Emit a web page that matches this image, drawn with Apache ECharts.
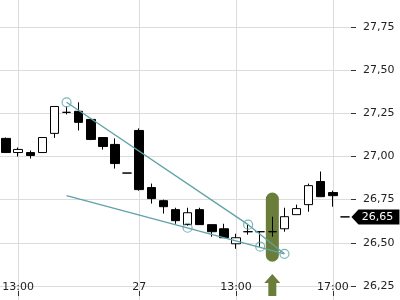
<!DOCTYPE html>
<html><head><meta charset="utf-8">
<script src="https://cdn.jsdelivr.net/npm/echarts@6/dist/echarts.min.js"></script>
<style>html,body{margin:0;padding:0;background:#fff}#c{width:400px;height:300px}</style>
</head><body><div id="c"></div>
<script>
// 30-minute candles, 26th 12:30 .. 27th 17:30
const times = ['26 12:30','26 13:00','26 13:30','26 14:00','26 14:30','26 15:00','26 15:30','26 16:00','26 16:30','26 17:00','26 17:30',
  '27 09:00','27 09:30','27 10:00','27 10:30','27 11:00','27 11:30','27 12:00','27 12:30','27 13:00','27 13:30','27 14:00','27 14:30',
  '27 15:00','27 15:30','27 16:00','27 16:30','27 17:00','27 17:30'];
const opens  = [27.105,27.023,27.023,27.023,27.134,27.256,27.262,27.215,27.110,27.070,26.904,27.151,26.820,26.744,26.692,26.605,26.692,26.605,26.581,26.494,26.564,26.564,26.564,26.581,26.663,26.721,26.855,26.791,26.650];
const closes = [27.023,27.041,27.006,27.110,27.290,27.256,27.198,27.099,27.058,26.959,26.904,26.808,26.756,26.709,26.628,26.674,26.605,26.564,26.529,26.529,26.564,26.564,26.564,26.651,26.698,26.831,26.767,26.773,26.650];
const lows   = [27.020,27.000,26.988,27.023,27.108,27.244,27.151,27.095,27.040,26.930,26.904,26.802,26.727,26.669,26.610,26.599,26.605,26.535,26.529,26.465,26.547,26.477,26.535,26.564,26.663,26.680,26.767,26.709,26.650];
const highs  = [27.110,27.052,27.035,27.110,27.290,27.290,27.314,27.220,27.110,27.105,26.904,27.163,26.843,26.750,26.703,26.703,26.703,26.605,26.610,26.552,26.605,26.564,26.651,26.703,26.721,26.843,26.913,26.802,26.650];
const tickIndex  = [1, 11, 19, 27];
const tickLabels = ['13:00', '27', '13:00', '17:00'];
const yMin = 26.00, yMax = 28.00, yStep = 0.25;
const lastPrice = 26.65;
const trendUpper = [[5, 27.314], [20, 26.605], [23, 26.436]];
const trendLower = [[5, 26.773], [23, 26.436]];
const anchors = [[5, 27.314], [20, 26.605], [23, 26.436], [15, 26.587], [21, 26.477]];
const signal = [[22, 26.39, 26.791]]; // [index, low, high] of highlighted signal bar

const TEAL = '#5fa2a8', OLIVE = '#6b7d3b', FONT = 'DejaVu Sans';
const fmt = v => v.toFixed(2).replace('.', ',');
const candles = opens.map((o, i) => [o, closes[i], lows[i], highs[i]]);

const chart = echarts.init(document.getElementById('c'), null, {renderer: 'canvas'});
chart.setOption({
  animation: false,
  backgroundColor: '#fff',
  grid: {left: 0, right: 49, top: -16, bottom: -29, outerBoundsMode: 'none', containLabel: false},
  xAxis: {
    type: 'category', data: times, boundaryGap: true, position: 'bottom', offset: -33,
    axisLine: {show: false},
    axisTick: {show: true, inside: true, length: 5, alignWithLabel: true,
      interval: i => tickIndex.includes(i), lineStyle: {color: '#333'}},
    axisLabel: {show: true, inside: true, margin: 3, fontFamily: FONT, fontSize: 11, color: '#222',
      interval: i => tickIndex.includes(i),
      formatter: (v, i) => tickLabels[tickIndex.indexOf(i)] || ''},
    splitLine: {show: false}
  },
  yAxis: {
    type: 'value', position: 'right', min: yMin, max: yMax, interval: yStep, scale: true,
    axisLine: {show: false},
    axisTick: {show: true, length: 5, lineStyle: {color: '#333'}},
    axisLabel: {margin: 12, fontFamily: FONT, fontSize: 11, color: '#222', formatter: fmt},
    splitLine: {show: true, lineStyle: {color: '#dcdcdc', width: 1}}
  },
  series: [
    {
      type: 'custom', z: 1, silent: true,
      data: signal,
      renderItem: (params, api) => {
        const lo = api.coord([api.value(0), api.value(1)]);
        const hi = api.coord([api.value(0), api.value(2)]);
        const cx = lo[0], w = 13;
        const by = api.getHeight() - 4, hy = by - 22;
        return {type: 'group', children: [
          {type: 'rect', shape: {x: cx - w / 2, y: hi[1], width: w, height: lo[1] - hi[1], r: w / 2}, style: {fill: OLIVE}},
          {type: 'polygon', shape: {points: [[cx, hy], [cx + 8, hy + 9], [cx + 4, hy + 9], [cx + 4, by], [cx - 4, by], [cx - 4, hy + 9], [cx - 8, hy + 9]]}, style: {fill: OLIVE}}
        ]};
      },
      markLine: {
        silent: true, symbol: 'none', z: 0, label: {show: false},
        lineStyle: {color: '#dcdcdc', width: 1, type: 'solid'},
        data: tickIndex.map(i => ({xAxis: i}))
      }
    },
    {
      type: 'candlestick', z: 2, data: candles, barWidth: 9,
      itemStyle: {color: '#fff', color0: '#000', borderColor: '#000', borderColor0: '#000', borderWidth: 1},
      markPoint: {
        silent: true,
        data: [{
          coord: [candles.length - 1, lastPrice],
          symbol: 'path://M0,7 L7,0 L48,0 L48,14 L7,14 Z',
          symbolSize: [48, 15], symbolOffset: [30.5, 0],
          itemStyle: {color: '#000'},
          label: {show: true, position: 'inside', offset: [2, 0], color: '#fff', fontFamily: FONT, fontSize: 11,
            formatter: () => fmt(lastPrice)}
        }]
      }
    },
    {type: 'line', z: 3, data: trendUpper, symbol: 'none', silent: true, lineStyle: {color: TEAL, width: 1.3}},
    {type: 'line', z: 3, data: trendLower, symbol: 'none', silent: true, lineStyle: {color: TEAL, width: 1.3}},
    {type: 'scatter', z: 4, data: anchors, symbol: 'circle', symbolSize: 9, silent: true,
      itemStyle: {color: 'rgba(0,0,0,0)', borderColor: TEAL, borderWidth: 1.2}}
  ]
});
</script></body></html>
